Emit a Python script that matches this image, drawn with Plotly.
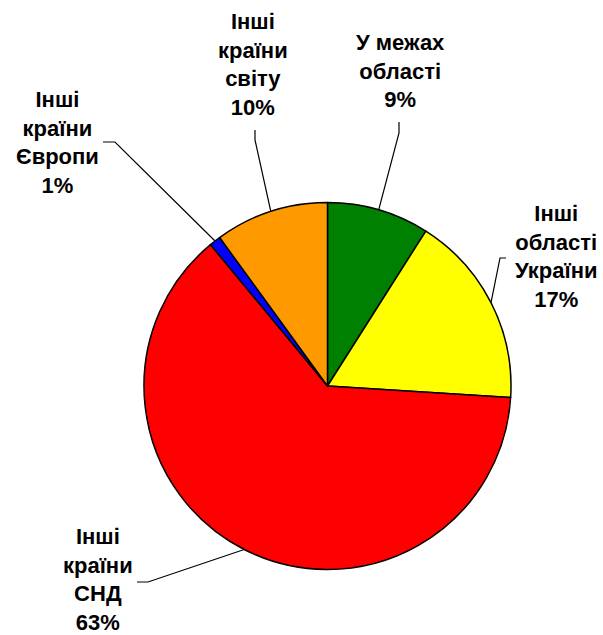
import math
import plotly.graph_objects as go

# ---- data ----
categories = ["У межах<br>області", "Інші<br>області<br>України", "Інші<br>країни<br>СНД",
              "Інші<br>країни<br>Європи", "Інші<br>країни<br>світу"]
values = [9, 17, 63, 1, 10]
colors = ["#008000", "#FFFF00", "#FF0000", "#0000FF", "#FF9900"]

# ---- layout (pixels in a 603x635 canvas) ----
W, H = 603, 635
CX, CY, R = 327.5, 386, 183.5
label_pos = [(400, 71.5), (556, 256.5), (98, 579), (57, 142.5), (253, 64.5)]
leader_knee = [(399, 133), (500, 258), (148, 582), (115, 142), (255, 140)]
leader_end = [(399, 122), (506, 258), (137, 582), (103, 142), (255, 130)]

def px(x):
    return x / W

def py(y):
    return 1 - y / H

fig = go.Figure(go.Pie(
    labels=[c.replace("<br>", " ") for c in categories],
    values=values,
    sort=False,
    direction="clockwise",
    rotation=0,
    marker=dict(colors=colors, line=dict(color="black", width=1.5)),
    textinfo="none",
    hoverinfo="label+percent",
    domain=dict(x=[px(CX - R), px(CX + R)], y=[py(CY + R), py(CY - R)]),
    showlegend=False,
))

total = sum(values)
cum = 0
shapes = []
annotations = []
for i, v in enumerate(values):
    mid = (cum + v / 2) / total * 2 * math.pi
    cum += v
    ex = CX + R * math.sin(mid)
    ey = CY - R * math.cos(mid)
    kx, ky = leader_knee[i]
    qx, qy = leader_end[i]
    shapes.append(dict(
        type="path", xref="paper", yref="paper",
        path=f"M {px(ex)} {py(ey)} L {px(kx)} {py(ky)} L {px(qx)} {py(qy)}",
        line=dict(color="black", width=1.2),
    ))
    pct = round(v / total * 100)
    lx, ly = label_pos[i]
    annotations.append(dict(
        x=px(lx), y=py(ly), xref="paper", yref="paper",
        text=f"{categories[i]}<br>{pct}%",
        showarrow=False, xanchor="center", yanchor="middle", align="center",
        font=dict(family="Liberation Sans, Arial, sans-serif", size=22, color="black", weight="bold"),
    ))

fig.update_layout(
    width=W, height=H,
    margin=dict(l=0, r=0, t=0, b=0),
    paper_bgcolor="white", plot_bgcolor="white",
    shapes=shapes, annotations=annotations,
)

fig.write_html("out.html", config={"displayModeBar": False},
               post_script="document.body.style.margin='0';document.body.style.overflow='hidden';")
